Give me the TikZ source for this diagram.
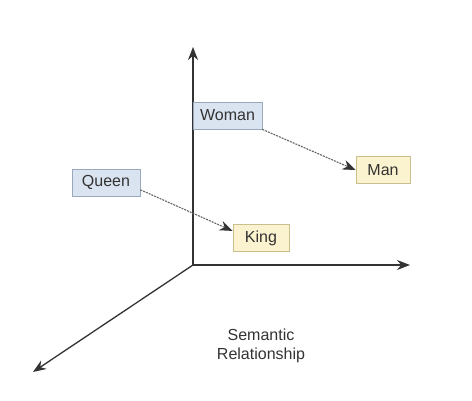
\documentclass[tikz,border=0pt]{standalone}
\usepackage{fontspec}
\setmainfont{Liberation Sans}
\usetikzlibrary{arrows.meta}
\definecolor{bluefill}{HTML}{DAE3F0}
\definecolor{blueline}{HTML}{9AA8BC}
\definecolor{yelfill}{HTML}{FBF3CF}
\definecolor{yelline}{HTML}{C9BE8C}
\definecolor{axis}{HTML}{333333}
\definecolor{rel}{HTML}{666666}
\tikzset{
  word/.style={draw, line width=0.8pt, minimum height=27pt, inner sep=0pt, font=\fontsize{16}{19}\selectfont, text=axis},
  bluebox/.style={word, fill=bluefill, draw=blueline},
  yelbox/.style={word, fill=yelfill, draw=yelline},
  axisline/.style={axis, line width=1.3pt, -{Stealth[length=13pt,width=10pt]}},
  relation/.style={rel, line width=1.1pt, dash pattern=on 2pt off 1pt, -{Stealth[length=13pt,width=10pt,fill=axis,color=axis]}}
}
\begin{document}
\begin{tikzpicture}[x=1pt,y=-1pt]
\useasboundingbox[fill=white] (0,0) rectangle (472,400);
\coordinate (O) at (193,265);
\coordinate (Y) at (193,47);
\coordinate (X) at (410,265);
\coordinate (Z) at (33,372);
\draw[axisline] (O) -- (Y);
\draw[axisline] (O) -- (X);
\draw[axisline] (O) -- (Z);
\node[bluebox, minimum width=69pt] (Woman) at (227.5,115.5) {Woman};
\node[yelbox, minimum width=54pt] (Man) at (383,170) {Man};
\node[bluebox, minimum width=68pt] (Queen) at (106,182.5) {Queen};
\node[yelbox, minimum width=56pt] (King) at (261,238) {King};
\draw[relation] (Woman.south east) -- (Man.west);
\draw[relation] (Queen.-12) -- (King.166);
\node[font=\fontsize{16}{19.5}\selectfont, text=axis, align=center] (label) at (261,346) {Semantic\\Relationship};
\end{tikzpicture}
\end{document}
